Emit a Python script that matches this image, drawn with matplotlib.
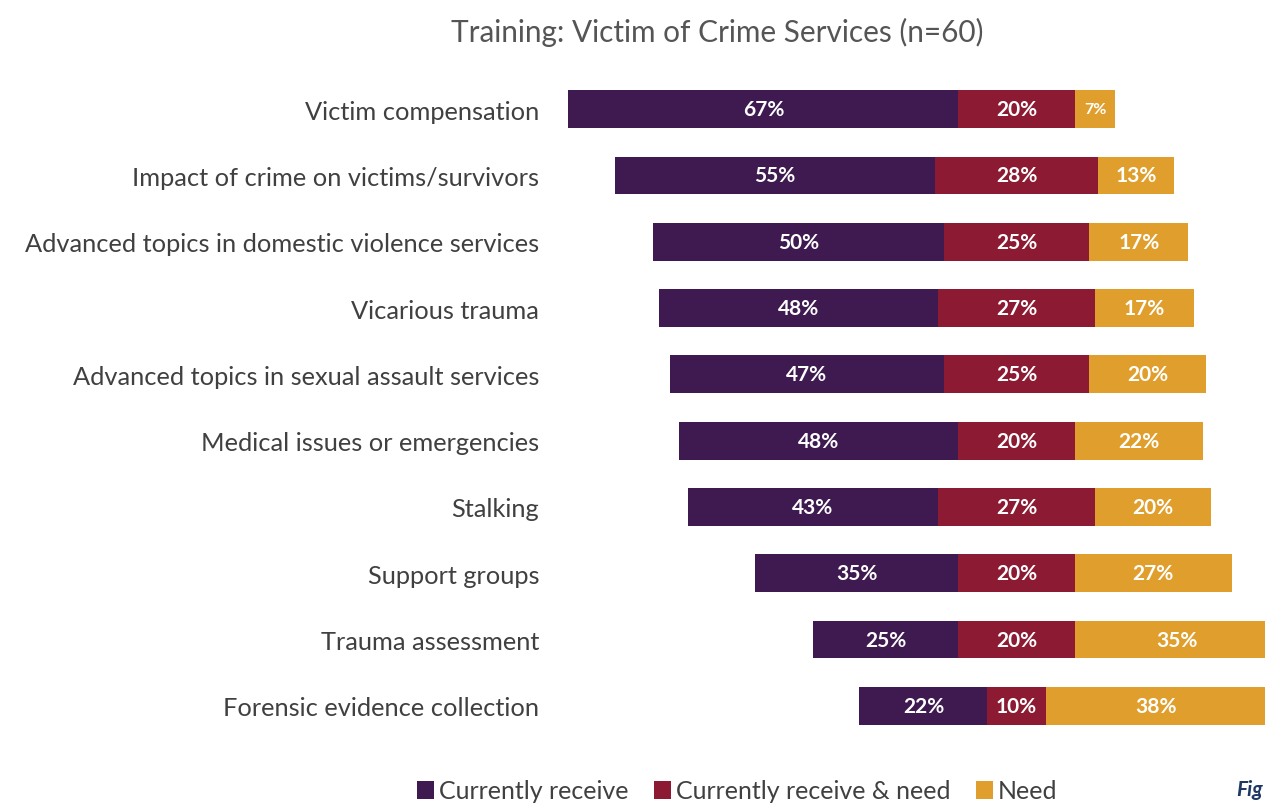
import matplotlib.pyplot as plt
from matplotlib.patches import Patch

categories = [
    "Victim compensation",
    "Impact of crime on victims/survivors",
    "Advanced topics in domestic violence services",
    "Vicarious trauma",
    "Advanced topics in sexual assault services",
    "Medical issues or emergencies",
    "Stalking",
    "Support groups",
    "Trauma assessment",
    "Forensic evidence collection",
]
receive = [67, 55, 50, 48, 47, 48, 43, 35, 25, 22]
receive_need = [20, 28, 25, 27, 25, 20, 27, 20, 20, 10]
need = [7, 13, 17, 17, 20, 22, 20, 27, 35, 38]

series_names = ["Currently receive", "Currently receive & need", "Need"]
colors = ["#3e1a50", "#8b1a32", "#e09f2d"]

W, H = 1265, 804
fig = plt.figure(figsize=(W / 100, H / 100), dpi=100)
plt.rcParams["font.family"] = ["Lato", "DejaVu Sans"]

# axes placed in pixel terms; zero sits at the middle of the middle segment
left_px, right_px, top_px, bot_px = 560, 1265, 77, 740
ax = fig.add_axes([left_px / W, 1 - bot_px / H, (right_px - left_px) / W, (bot_px - top_px) / H])
scale = 5.82  # pixels per percent
center_px = 1016.5
ax.set_xlim(-(center_px - left_px) / scale, (right_px - center_px) / scale)
ax.set_ylim(len(categories) - 0.5, -0.5)

ys = list(range(len(categories)))
h = 0.57
for i in ys:
    start = -receive_need[i] / 2 - receive[i]
    segs = [receive[i], receive_need[i], need[i]]
    x = start
    for v, c in zip(segs, colors):
        ax.barh(i, v, left=x, height=h, color=c, edgecolor="none")
        fs = 11.5 if v < 10 else 15
        ax.text(x + v / 2, i, f"{v}%", ha="center", va="center", color="white",
                fontsize=fs, fontweight="bold")
        x += v

ax.set_yticks(ys)
ax.set_yticklabels(categories, fontsize=18.3, color="#404040")
ax.tick_params(axis="y", length=0, pad=15)
ax.set_xticks([])
for s in ax.spines.values():
    s.set_visible(False)

fig.text(717 / W, 1 - 32 / H, "Training: Victim of Crime Services (n=60)", ha="center", va="center",
         fontsize=21.4, color="#555555")

handles = [Patch(facecolor=c, edgecolor="none") for c in colors]
fig.legend(handles, series_names, loc="center", bbox_to_anchor=(737 / W, 1 - 792 / H), ncol=3,
           frameon=False, fontsize=18, handlelength=0.7, handleheight=0.7, handletextpad=0.2,
           columnspacing=1.0, labelcolor="#404040")

fig.text(1263 / W, 1 - 790 / H, "Fig", ha="right", va="center", fontsize=15,
         fontweight="bold", style="italic", color="#1f3864")

fig.savefig("out.png", dpi=100)
